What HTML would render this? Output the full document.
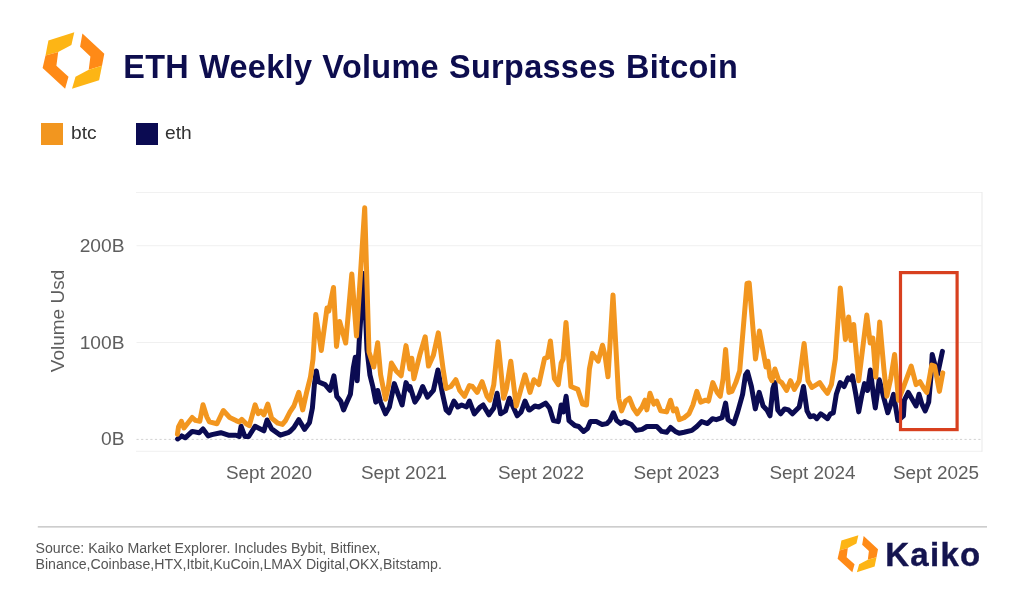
<!DOCTYPE html>
<html lang="en">
<head>
<meta charset="utf-8">
<title>ETH Weekly Volume Surpasses Bitcoin</title>
<style>
html,body{margin:0;padding:0;background:#fff;}
body{width:1024px;height:590px;position:relative;overflow:hidden;font-family:"Liberation Sans",sans-serif;}
.abs{position:absolute;white-space:nowrap;}
#title{left:123.3px;top:47.2px;font-size:32.4px;font-weight:700;color:#0d0d4e;line-height:40px;letter-spacing:0.33px;word-spacing:0.8px;}
.leg{font-size:19.2px;color:#333;line-height:22px;top:122.4px;}
.sq{position:absolute;width:22px;height:22px;top:122.8px;}
.tick{font-size:18.9px;color:#5e5e5e;line-height:22px;}
.xt{top:462.3px;width:120px;text-align:center;}
.yt{left:40px;width:84.5px;text-align:right;font-size:19.2px;}
#ylabel{left:58px;top:321px;width:0;height:0;}
#ylabel span{position:absolute;left:-60px;top:-11px;width:120px;height:22px;line-height:22px;text-align:center;transform:rotate(-90deg);font-size:19px;color:#5e5e5e;white-space:nowrap;}
#src{left:35.5px;top:540px;font-size:14.15px;line-height:16px;color:#555;white-space:normal;width:460px;}
#kaiko{left:885.2px;top:531.8px;font-size:33px;font-weight:700;color:#14144f;line-height:46px;letter-spacing:1.3px;-webkit-text-stroke:0.4px #14144f;}
svg{position:absolute;left:0;top:0;}
</style>
</head>
<body>
<svg width="1024" height="590" viewBox="0 0 1024 590">
  <!-- plot frame + gridlines -->
  <path d="M136 192.5 H982 M982 451.3 H136" fill="none" stroke="#f1f1f1" stroke-width="1"/>
  <line x1="982" y1="192" x2="982" y2="451.8" stroke="#e9e9e9" stroke-width="1"/>
  <line x1="136.5" y1="245.7" x2="982" y2="245.7" stroke="#f0f0f0" stroke-width="1"/>
  <line x1="136.5" y1="342.5" x2="982" y2="342.5" stroke="#f0f0f0" stroke-width="1"/>
  <line x1="136.5" y1="439.4" x2="982" y2="439.4" stroke="#d2d2d2" stroke-width="1" stroke-dasharray="2.2 2.4"/>
  <!-- series -->
  <path d="M177.6 438.9 L181.7 435.9 L185.2 437.8 L192.2 431.4 L199.2 432.7 L203.0 428.9 L208.1 435.9 L211.9 434.6 L220.8 432.7 L228.4 435.2 L236.0 435.2 L239.2 436.5 L241.1 426.3 L244.9 436.5 L248.7 436.5 L255.1 426.3 L258.9 428.2 L263.9 430.8 L267.1 420.0 L271.6 428.9 L280.4 435.2 L288.1 432.7 L290.0 431.4 L293.9 427.5 L298.8 419.7 L304.6 429.4 L309.5 422.6 L312.4 408.0 L314.4 384.6 L316.3 370.9 L318.3 381.7 L325.1 384.6 L330.0 390.4 L333.9 375.8 L336.8 396.3 L340.7 401.1 L343.6 409.9 L346.5 403.1 L350.4 394.3 L353.3 368.0 L355.3 357.3 L357.2 380.7 L359.2 341.7 L363.7 273.5 L367.0 349.5 L369.9 374.8 L372.8 386.5 L375.8 402.1 L377.7 390.4 L380.6 402.1 L385.5 413.8 L389.4 407.0 L394.3 383.6 L398.2 394.3 L402.1 405.0 L406.0 382.6 L409.9 390.4 L410.0 386.5 L414.9 402.1 L418.8 396.3 L422.7 386.5 L427.5 397.2 L433.4 390.4 L437.9 370.0 L442.2 392.4 L446.1 409.9 L449.0 412.8 L453.9 401.1 L457.8 407.0 L461.7 405.0 L466.5 407.0 L469.4 401.1 L474.3 413.8 L480.2 407.0 L483.1 405.0 L488.9 414.8 L493.8 408.0 L497.1 393.3 L500.6 413.8 L505.5 410.9 L509.4 398.2 L512.3 405.0 L517.2 415.8 L521.1 411.9 L525.0 401.1 L528.9 409.9 L530.0 409.9 L534.9 406.0 L538.8 407.0 L545.6 403.1 L549.5 408.0 L553.4 420.6 L558.3 421.6 L561.2 405.0 L563.5 411.9 L566.1 396.3 L569.0 420.6 L574.8 425.5 L578.7 426.5 L583.6 431.4 L587.5 428.4 L590.4 421.6 L596.3 421.6 L602.1 424.5 L607.0 423.6 L609.9 420.6 L613.4 412.8 L616.7 420.6 L620.6 423.6 L624.5 421.6 L631.4 424.5 L636.2 430.4 L642.1 429.4 L646.9 426.5 L650.0 426.5 L656.8 426.5 L661.7 431.4 L666.6 432.3 L670.5 427.5 L675.3 431.4 L679.2 433.3 L684.1 432.3 L691.9 430.4 L696.8 426.5 L701.7 421.6 L707.5 423.6 L712.4 418.7 L716.3 419.7 L722.1 417.7 L725.6 403.1 L728.0 419.7 L733.8 423.6 L737.7 411.9 L742.6 394.3 L745.5 374.8 L747.5 371.9 L751.4 386.5 L755.3 408.9 L759.2 392.4 L763.1 406.0 L766.9 409.9 L770.0 415.8 L772.9 388.5 L774.9 382.6 L777.8 409.9 L780.7 413.8 L784.6 408.9 L788.5 409.9 L792.4 413.8 L799.2 407.0 L803.5 386.5 L807.0 410.9 L810.0 416.7 L813.9 415.8 L816.8 418.7 L820.7 413.8 L823.6 415.8 L827.5 418.7 L830.4 413.8 L833.3 412.8 L836.3 394.3 L840.2 382.6 L844.1 386.5 L848.0 377.8 L850.9 379.7 L852.4 375.8 L855.8 394.3 L858.7 411.9 L861.6 396.3 L864.5 383.6 L867.5 390.4 L870.4 370.0 L873.3 394.3 L875.3 408.0 L879.2 379.7 L880.0 382.6 L883.9 398.2 L887.8 412.8 L890.7 404.1 L893.6 394.3 L897.9 420.6 L903.4 415.8 L904.4 400.2 L908.3 392.4 L912.2 399.2 L916.1 406.0 L919.0 394.3 L921.9 404.1 L925.2 410.9 L928.7 402.1 L931.1 374.8 L932.2 354.4 L937.5 374.8 L942.4 351.4" fill="none" stroke="#0b0b52" stroke-width="5" stroke-linejoin="round" stroke-linecap="round"/>
  <path d="M177.4 434.3 L178.5 427.0 L181.4 421.3 L184.0 428.0 L192.2 417.5 L195.4 420.4 L199.8 421.3 L203.0 404.8 L206.8 416.8 L209.4 421.9 L217.0 423.8 L223.3 410.5 L229.7 417.5 L236.0 420.6 L239.2 421.9 L241.7 419.4 L246.2 423.8 L249.3 425.7 L255.1 404.8 L258.2 413.6 L260.8 411.1 L263.9 414.9 L267.8 404.1 L271.6 418.1 L277.9 423.2 L282.4 424.4 L285.5 420.6 L290.0 411.9 L293.9 406.0 L298.8 392.4 L302.7 409.9 L306.6 392.4 L310.5 376.8 L313.0 359.2 L315.8 314.5 L321.3 350.5 L327.0 308.0 L328.8 311.0 L333.5 287.5 L336.5 346.4 L339.6 321.5 L345.7 343.0 L351.8 274.0 L356.5 336.0 L364.7 207.8 L369.0 352.0 L373.8 367.0 L377.7 342.7 L380.6 374.8 L385.5 399.2 L388.4 386.5 L391.4 363.1 L396.2 370.9 L401.1 375.8 L406.0 345.6 L409.9 369.0 L411.8 358.3 L413.9 378.7 L419.7 355.3 L425.2 336.8 L428.5 366.1 L433.4 355.3 L438.3 332.9 L443.1 369.0 L446.1 388.5 L450.9 386.5 L455.8 379.7 L459.7 390.4 L464.6 396.3 L469.4 385.6 L472.4 386.5 L477.2 392.4 L482.1 381.7 L487.0 396.3 L489.9 400.2 L493.8 384.6 L498.1 341.7 L503.6 398.2 L506.5 388.5 L510.8 361.2 L516.2 406.0 L525.0 374.8 L530.0 392.4 L533.9 379.7 L538.8 384.6 L544.6 358.3 L547.5 357.3 L550.4 341.0 L554.4 378.7 L558.3 384.6 L561.2 363.1 L563.1 359.2 L566.0 322.5 L570.9 386.5 L577.8 389.4 L582.6 404.1 L586.5 405.0 L589.4 369.0 L592.4 353.4 L598.2 361.2 L602.5 345.2 L605.0 355.3 L608.0 376.8 L613.0 295.0 L618.7 398.2 L621.6 410.9 L625.5 401.1 L629.4 398.2 L633.3 408.0 L637.2 413.8 L642.1 407.0 L645.0 400.2 L646.9 409.9 L650.0 393.3 L653.9 404.1 L656.8 401.1 L660.7 410.9 L666.6 411.9 L670.5 400.2 L673.4 410.9 L676.3 408.9 L679.2 419.7 L684.1 417.7 L689.0 413.8 L692.9 405.0 L696.8 391.4 L700.7 402.1 L705.6 400.2 L708.5 401.1 L712.8 382.6 L717.2 392.4 L720.2 396.3 L723.1 378.7 L725.6 349.5 L728.9 392.4 L731.9 391.4 L735.8 382.6 L739.7 370.9 L747.0 283.5 L749.2 283.0 L755.5 359.0 L759.4 331.0 L762.5 348.0 L766.0 367.0 L767.9 361.2 L770.0 376.8 L771.9 380.7 L774.9 369.0 L778.8 380.7 L781.7 382.6 L786.6 390.4 L790.5 380.7 L794.4 389.4 L799.2 380.7 L804.1 343.6 L808.0 380.7 L811.9 387.5 L819.7 382.6 L823.6 388.5 L827.5 393.3 L831.4 384.6 L835.3 359.2 L840.3 288.0 L845.4 339.5 L848.6 317.0 L851.0 340.5 L853.7 324.5 L858.7 380.7 L866.8 315.0 L870.2 343.0 L872.8 338.0 L875.8 377.0 L879.7 322.0 L883.9 369.0 L886.8 396.3 L890.7 378.7 L894.6 354.4 L898.5 400.2 L904.4 384.6 L911.2 366.1 L916.1 384.6 L920.0 381.7 L923.9 388.5 L926.8 392.4 L931.7 365.1 L934.6 366.1 L939.4 391.4 L942.8 372.9" fill="none" stroke="#f2961f" stroke-width="5" stroke-linejoin="round" stroke-linecap="round"/>
  <!-- highlight box -->
  <rect x="900.5" y="272.6" width="56.6" height="157" fill="none" stroke="#d8401f" stroke-width="3.2"/>
  <!-- footer rule -->
  <line x1="37.8" y1="526.8" x2="987" y2="526.8" stroke="#bdbdbd" stroke-width="1.3"/>
  <!-- header logo -->
  <g id="logo1">
    <polygon points="74.3,32.3 48.4,40.4 45.5,55.5 58.2,51.9 71.4,45.0" fill="#fdb515"/>
    <polygon points="45.5,55.5 42.6,68.1 65.1,88.8 68.5,76.7 56.4,65.8 58.2,51.9" fill="#ff8a17"/>
    <polygon points="82.4,33.5 104.3,53.7 102.0,65.8 88.7,69.8 90.4,56.5 80.1,46.7" fill="#ff8a17"/>
    <polygon points="102.0,65.8 99.1,80.2 72.0,88.8 75.5,76.7 88.7,69.8" fill="#fdb515"/>
  </g>
  <!-- footer logo -->
  <g transform="translate(837.6,535.2) scale(0.655) translate(-42.6,-32.3)">
    <polygon points="74.3,32.3 48.4,40.4 45.5,55.5 58.2,51.9 71.4,45.0" fill="#fdb515"/>
    <polygon points="45.5,55.5 42.6,68.1 65.1,88.8 68.5,76.7 56.4,65.8 58.2,51.9" fill="#ff8a17"/>
    <polygon points="82.4,33.5 104.3,53.7 102.0,65.8 88.7,69.8 90.4,56.5 80.1,46.7" fill="#ff8a17"/>
    <polygon points="102.0,65.8 99.1,80.2 72.0,88.8 75.5,76.7 88.7,69.8" fill="#fdb515"/>
  </g>
</svg>

<div id="title" class="abs">ETH Weekly Volume Surpasses Bitcoin</div>

<div class="sq" style="left:40.5px;background:#f2961f;"></div>
<div class="abs leg" style="left:71px;">btc</div>
<div class="sq" style="left:135.5px;background:#0b0b52;"></div>
<div class="abs leg" style="left:165px;">eth</div>

<div class="abs tick yt" style="top:234.8px;">200B</div>
<div class="abs tick yt" style="top:331.6px;">100B</div>
<div class="abs tick yt" style="top:428px;">0B</div>
<div id="ylabel" class="abs"><span>Volume Usd</span></div>

<div class="abs tick xt" style="left:209px;">Sept 2020</div>
<div class="abs tick xt" style="left:344px;">Sept 2021</div>
<div class="abs tick xt" style="left:481px;">Sept 2022</div>
<div class="abs tick xt" style="left:616.5px;">Sept 2023</div>
<div class="abs tick xt" style="left:752.5px;">Sept 2024</div>
<div class="abs tick xt" style="left:876px;">Sept 2025</div>

<div id="src" class="abs">Source: Kaiko Market Explorer. Includes Bybit, Bitfinex,<br>Binance,Coinbase,HTX,Itbit,KuCoin,LMAX Digital,OKX,Bitstamp.</div>
<div id="kaiko" class="abs">Kaiko</div>
</body>
</html>
